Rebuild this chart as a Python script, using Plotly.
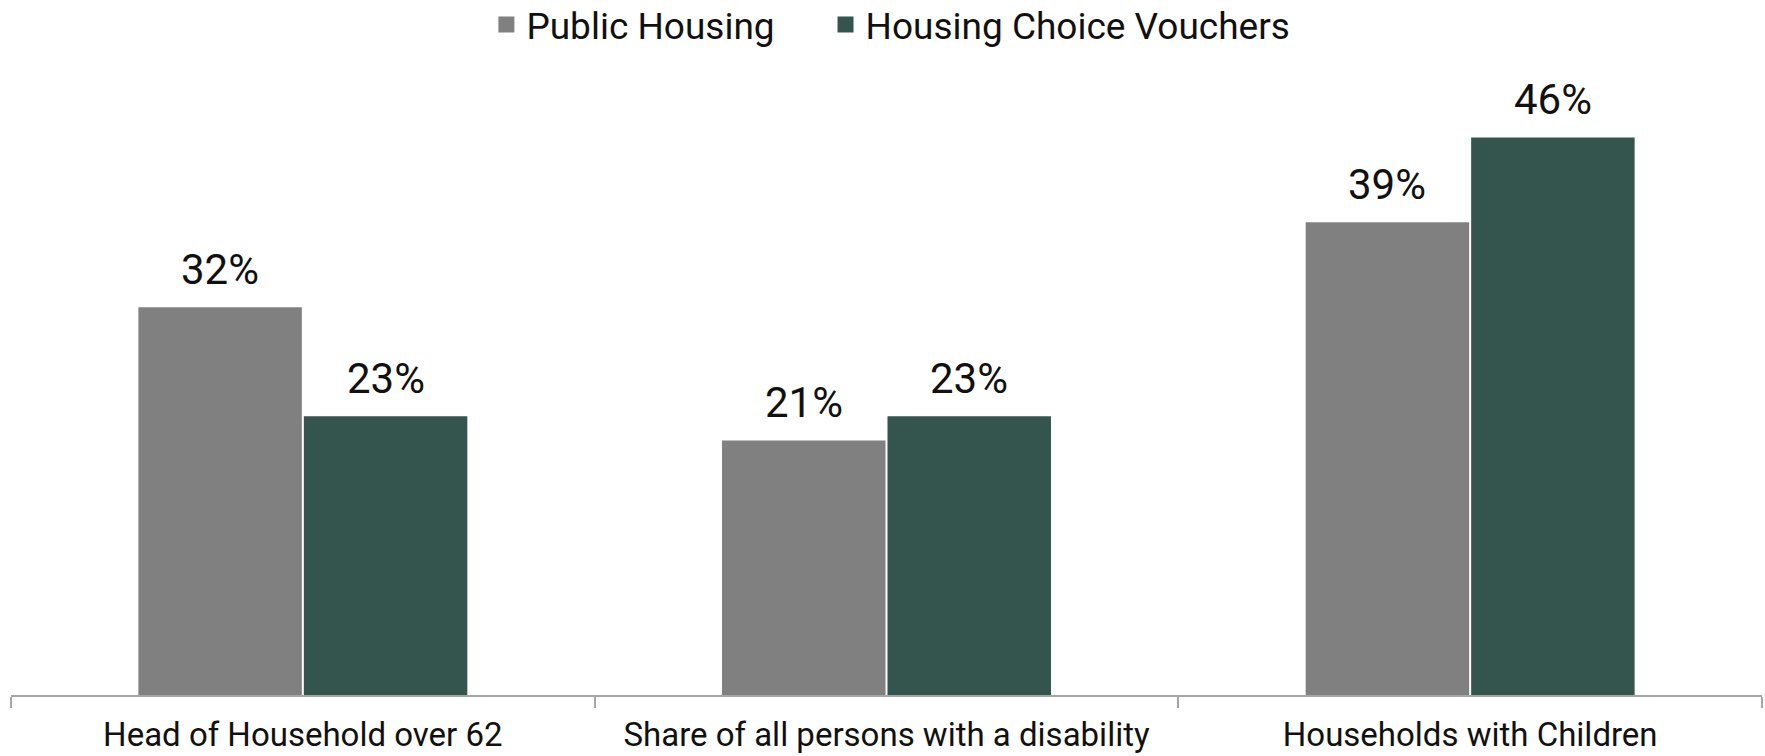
import plotly.graph_objects as go

categories = ["Head of Household over 62", "Share of all persons with a disability", "Households with Children"]
public_housing = [0.32, 0.21, 0.39]
vouchers = [0.23, 0.23, 0.46]
series_names = ["Public Housing", "Housing Choice Vouchers"]
colors = ["#808080", "#34554d"]

FONT = "Roboto"
bargap = 0.433
bargroupgap = 0.012

fig = go.Figure()
for k, (name, vals, col) in enumerate(zip(series_names, [public_housing, vouchers], colors)):
    fig.add_trace(go.Bar(x=categories, y=vals, name=name, marker=dict(color=col, line=dict(width=0)),
                         showlegend=False))
    # legend-only marker
    label = name + ("&nbsp;" * 5 if k == 0 else "")
    fig.add_trace(go.Scatter(x=[None], y=[None], mode="markers", name=label,
                             marker=dict(symbol="square", size=20, color=col)))

# data labels positioned through axis coordinates
slot = (1 - bargap) / 2
for j, vals in enumerate([public_housing, vouchers]):
    for i, v in enumerate(vals):
        xpos = i - slot / 2 + j * slot
        fig.add_annotation(x=xpos, y=v, xref="x", yref="y", text=f"{round(v*100)}%",
                           showarrow=False, yanchor="middle", yshift=38,
                           font=dict(family=FONT, size=42, color="#111111"))

fig.update_layout(
    width=1765, height=756,
    margin=dict(l=11, r=3, t=89, b=61),
    paper_bgcolor="white", plot_bgcolor="white",
    barmode="group", bargap=bargap, bargroupgap=bargroupgap,
    font=dict(family=FONT, size=33, color="#111111"),
    legend=dict(orientation="h", x=0.5025, xanchor="center", y=0.967, yref="container",
                yanchor="middle", font=dict(family=FONT, size=37, color="#111111"),
                itemsizing="trace", traceorder="normal"),
    showlegend=True,
)
fig.update_xaxes(showline=True, linecolor="#a6a6a6", linewidth=1.5, ticks="outside",
                 tickson="boundaries", ticklen=11, tickcolor="#a6a6a6", tickwidth=1.5,
                 showgrid=False, ticklabelstandoff=10, automargin=False,
                 tickfont=dict(family=FONT, size=33, color="#111111"))
fig.update_yaxes(range=[0, 0.5], visible=False, showgrid=False, automargin=False)

fig.write_html("out.html", config={"displayModeBar": False},
               post_script="document.body.style.margin='0';")
